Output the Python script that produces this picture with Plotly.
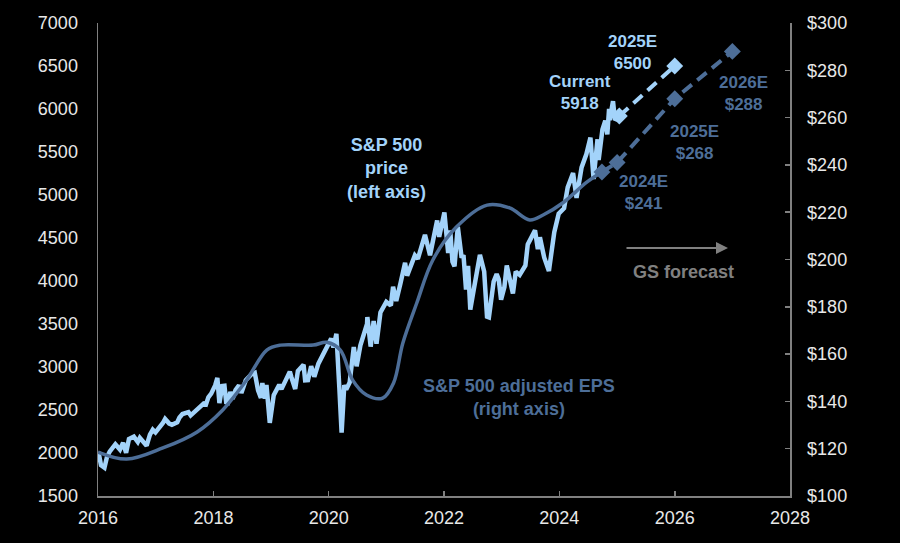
import plotly.graph_objects as go

# ---- S&P 500 price (left axis) ----
price_dates = [
    "2016-01-04","2016-01-20","2016-02-11","2016-02-26","2016-03-15","2016-03-31","2016-04-20","2016-05-19",
    "2016-06-08","2016-06-27","2016-07-15","2016-08-15","2016-09-09","2016-09-22","2016-10-14","2016-11-04",
    "2016-11-25","2016-12-13","2016-12-30",
    "2017-01-26","2017-02-15","2017-03-01","2017-03-27","2017-04-13","2017-05-17","2017-05-31","2017-06-19",
    "2017-07-27","2017-08-10","2017-08-31","2017-09-20","2017-10-31","2017-11-15","2017-11-30","2017-12-18",
    "2018-01-12","2018-01-26","2018-02-08","2018-02-26","2018-03-12","2018-03-23","2018-04-02","2018-04-18",
    "2018-05-03","2018-05-21","2018-06-12","2018-06-27","2018-07-25","2018-08-29","2018-09-20","2018-10-11",
    "2018-10-29","2018-11-07","2018-11-23","2018-12-03","2018-12-24",
    "2019-01-18","2019-02-22","2019-03-08","2019-03-29","2019-04-30","2019-05-10","2019-06-03","2019-06-20",
    "2019-07-26","2019-08-05","2019-08-23","2019-09-12","2019-10-02","2019-10-28","2019-11-27","2019-12-27",
    "2020-01-17","2020-01-31","2020-02-19","2020-03-09","2020-03-23","2020-04-09","2020-04-21","2020-05-13",
    "2020-06-08","2020-06-26","2020-07-20","2020-08-31","2020-09-02","2020-09-23","2020-10-12","2020-10-30",
    "2020-11-24","2020-12-31",
    "2021-01-29","2021-02-12","2021-03-04","2021-03-31","2021-04-29","2021-05-12","2021-06-30","2021-07-19",
    "2021-08-27","2021-09-02","2021-10-04","2021-11-18","2021-12-01","2021-12-31",
    "2022-01-03","2022-01-27","2022-02-09","2022-02-23","2022-03-08","2022-03-29","2022-04-22","2022-05-04",
    "2022-05-20","2022-06-02","2022-06-16","2022-07-08","2022-07-29","2022-08-16","2022-09-12","2022-09-30",
    "2022-10-12","2022-10-27","2022-11-11","2022-11-30","2022-12-13","2022-12-28",
    "2023-01-18","2023-02-02","2023-02-24","2023-03-13","2023-03-31","2023-04-25","2023-05-31","2023-06-15",
    "2023-07-31","2023-08-18","2023-08-31","2023-09-27","2023-10-27","2023-11-30","2023-12-28",
    "2024-01-31","2024-02-23","2024-03-28","2024-04-19","2024-05-21","2024-06-20","2024-07-16","2024-08-05",
    "2024-08-30","2024-09-06","2024-09-30","2024-10-18","2024-10-31","2024-11-11","2024-11-15","2024-12-06",
    "2024-12-18","2025-01-15",
]
price_values = [
    2012,1859,1829,1948,2016,2060,2102,2040,
    2119,2001,2162,2190,2128,2177,2133,2085,
    2213,2271,2239,
    2298,2349,2396,2342,2329,2357,2412,2453,
    2475,2438,2472,2508,2575,2565,2648,2690,
    2786,2873,2581,2780,2783,2588,2582,2708,
    2630,2733,2787,2699,2846,2914,2931,2728,
    2641,2814,2633,2790,2351,
    2671,2793,2743,2834,2946,2881,2744,2954,
    3026,2845,2847,3009,2887,3039,3154,3240,
    3330,3226,3386,2747,2237,2790,2737,2820,
    3232,3009,3251,3500,3580,3237,3534,3270,
    3635,3756,
    3714,3934,3768,3973,4211,4063,4298,4258,
    4510,4537,4300,4704,4513,4766,
    4797,4326,4587,4225,4171,4632,4272,4300,
    3901,4177,3667,3899,4130,4305,4110,3586,
    3577,3807,3993,4080,4019,3783,
    3929,4179,3970,3855,4109,4071,4180,4426,
    4589,4370,4508,4274,4117,4568,4783,
    4846,5089,5254,4967,5321,5473,5667,5186,
    5648,5408,5762,5864,5705,6001,5870,6090,
    5872,5918,
]

# ---- GS price forecast ----
price_fc_dates = ["2025-01-15", "2026-01-01"]
price_fc_values = [5918, 6500]

# ---- S&P 500 adjusted EPS (right axis) ----
eps_dates = [
    "2016-01-01","2016-07-01","2017-02-15","2017-09-20","2018-03-01","2018-07-30","2018-12-05","2019-03-01",
    "2019-09-25","2019-12-20","2020-03-15","2020-06-01","2020-08-28","2020-12-08","2021-02-15","2021-04-15",
    "2021-07-12","2021-10-22","2022-03-20","2022-10-01","2023-02-20","2023-06-28","2023-09-20","2024-01-22",
    "2024-06-25","2024-09-27",
]
eps_values = [
    118.6,115.6,120.3,127.1,136.4,149.0,161.7,163.8,
    163.8,165.0,161.7,149.0,142.7,141.4,147.8,164.7,
    181.6,199.8,213.7,223.0,221.8,216.7,218.8,223.9,
    232.8,237.0,
]

# ---- GS EPS forecast ----
eps_fc_dates = ["2024-09-27", "2025-01-01", "2026-01-01", "2027-01-01"]
eps_fc_values = [237.0, 241, 268, 288]

x_ticks = ["2016-01-01","2018-01-01","2020-01-01","2022-01-01","2024-01-01","2026-01-01","2028-01-01"]
x_tick_labels = ["2016","2018","2020","2022","2024","2026","2028"]

PRICE_C = "#A3D3FA"
EPS_C = "#4D6E98"
AXIS_C = "#808080"
TXT_C = "#E8E8E8"
FONT = "Liberation Sans, Arial, sans-serif"

fig = go.Figure()

fig.add_trace(go.Scatter(x=eps_dates, y=eps_values, yaxis="y2", mode="lines",
                         line=dict(color=EPS_C, width=3.5, shape="spline", smoothing=1.0),
                         hoverinfo="skip"))
fig.add_trace(go.Scatter(x=eps_fc_dates, y=eps_fc_values, yaxis="y2", mode="lines+markers",
                         line=dict(color=EPS_C, width=4, dash="12px,7px"),
                         marker=dict(symbol="diamond", size=13, color=EPS_C),
                         hoverinfo="skip"))
fig.add_trace(go.Scatter(x=price_dates, y=price_values, mode="lines",
                         line=dict(color=PRICE_C, width=4.5),
                         hoverinfo="skip"))
fig.add_trace(go.Scatter(x=price_fc_dates, y=price_fc_values, mode="lines+markers",
                         line=dict(color=PRICE_C, width=4, dash="12px,7px"),
                         marker=dict(symbol="diamond", size=13, color=PRICE_C),
                         hoverinfo="skip"))

def ann(x, y, text, color, size):
    return dict(xref="paper", yref="paper", x=x, y=y, text=text, showarrow=False,
                font=dict(family=FONT, size=size, color=color), align="center",
                xanchor="center", yanchor="middle")

annotations = [
    ann(0.4176, 0.6934, "<b>S&P 500<br>price<br>(left axis)</b>", PRICE_C, 18),
    ann(0.6084, 0.2093, "<b>S&P 500 adjusted EPS<br>(right axis)</b>", EPS_C, 18),
    ann(0.6965, 0.854, "<b>Current<br>5918</b>", PRICE_C, 17),
    ann(0.7731, 0.9376, "<b>2025E<br>6500</b>", PRICE_C, 17),
    ann(0.9335, 0.85, "<b>2026E<br>$288</b>", EPS_C, 17),
    ann(0.8627, 0.7474, "<b>2025E<br>$268</b>", EPS_C, 17),
    ann(0.789, 0.6416, "<b>2024E<br>$241</b>", EPS_C, 17),
    ann(0.8454, 0.4736, "<b>GS forecast</b>", AXIS_C, 18),
    dict(xref="paper", yref="paper", x=0.9104, y=0.5243, ax=-103, ay=0,
         axref="pixel", ayref="pixel", text="", showarrow=True,
         arrowhead=2, arrowsize=1.2, arrowwidth=2, arrowcolor=AXIS_C),
]

fig.update_layout(
    width=900, height=543,
    paper_bgcolor="black", plot_bgcolor="black",
    margin=dict(l=98, r=110, t=23, b=47),
    showlegend=False,
    hovermode=False,
    font=dict(family=FONT, color=TXT_C, size=18),
    xaxis=dict(type="date", range=["2016-01-01", "2028-01-01"],
               tickvals=x_ticks, ticktext=x_tick_labels,
               showgrid=False, zeroline=False, showline=True, linecolor=AXIS_C, linewidth=1.5,
               ticks="inside", ticklen=5, tickcolor=AXIS_C, tickwidth=1.5,
               ticklabelstandoff=5,
               tickfont=dict(size=18, color=TXT_C)),
    yaxis=dict(range=[1500, 7000], dtick=500, tick0=1500,
               showgrid=False, zeroline=False, showline=True, linecolor=AXIS_C, linewidth=1.5,
               ticks="", tickfont=dict(size=18, color=TXT_C), ticklabelstandoff=15,
               tickformat="d"),
    yaxis2=dict(range=[100, 300], dtick=20, tick0=100, overlaying="y", side="right",
                showgrid=False, zeroline=False, showline=True, linecolor=AXIS_C, linewidth=1.5,
                ticks="inside", ticklen=5, tickcolor=AXIS_C, tickwidth=1.5,
                ticklabelstandoff=12,
                tickprefix="$", tickfont=dict(size=18, color=TXT_C)),
    annotations=annotations,
)

fig.write_html("out.html", config={"displayModeBar": False, "staticPlot": True},
               post_script="document.body.style.margin='0';document.body.style.background='black';")
